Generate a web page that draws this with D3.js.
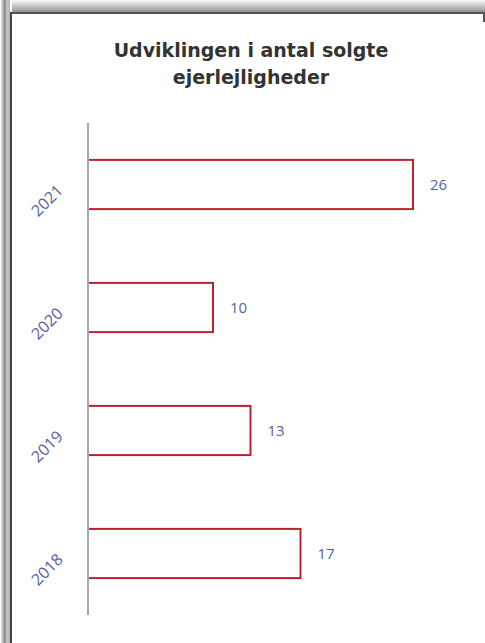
<!doctype html>
<html lang="da">
    <head>
        <meta charset="utf-8">
        <title>Udviklingen i antal solgte ejerlejligheder</title>
        <style>
            html, body { margin: 0; padding: 0; background: #fff; }
            svg { display: block; }
        </style>
    </head>
    <body>
        <article id="chart"></article>

        <script src="https://d3js.org/d3.v7.min.js"></script>
        <script>
            // data
            var years = ["2021", "2020", "2019", "2018"];
            var sold = [26, 10, 13, 17];
            var titleLines = ["Udviklingen i antal solgte", "ejerlejligheder"];

            var width = 485, height = 643;

            var svg = d3.select("#chart").append("svg")
                .attr("width", width)
                .attr("height", height);

            var defs = svg.append("defs");
            var topGrad = defs.append("linearGradient")
                .attr("id", "topGrad").attr("x1", 0).attr("y1", 0).attr("x2", 0).attr("y2", 1);
            topGrad.append("stop").attr("offset", "0%").attr("stop-color", "#fafafa");
            topGrad.append("stop").attr("offset", "100%").attr("stop-color", "#8a8a8a");

            var leftGrad = defs.append("linearGradient")
                .attr("id", "leftGrad").attr("x1", 0).attr("y1", 0).attr("x2", 1).attr("y2", 0);
            leftGrad.append("stop").attr("offset", "0%").attr("stop-color", "#e8e8e8");
            leftGrad.append("stop").attr("offset", "40%").attr("stop-color", "#8c8c8c");
            leftGrad.append("stop").attr("offset", "70%").attr("stop-color", "#c8c8c8");
            leftGrad.append("stop").attr("offset", "100%").attr("stop-color", "#b0b0b0");

            // frame: shaded strip on the left, gradient band on top
            svg.append("rect").attr("x", 12).attr("y", 0).attr("width", width - 12).attr("height", 13)
                .attr("fill", "url(#topGrad)");
            svg.append("rect").attr("x", 12).attr("y", 12).attr("width", width - 12).attr("height", 2)
                .attr("fill", "#555");
            svg.append("rect").attr("x", 1).attr("y", 0).attr("width", 9).attr("height", height)
                .attr("fill", "url(#leftGrad)");
            svg.append("rect").attr("x", 10).attr("y", 12).attr("width", 2).attr("height", height - 12)
                .attr("fill", "#444");
            svg.append("rect").attr("x", width - 2).attr("y", 12).attr("width", 2).attr("height", 10)
                .attr("fill", "#555");

            // title
            svg.append("text")
                .attr("x", 251)
                .attr("y", 57)
                .attr("text-anchor", "middle")
                .style("font-family", "'DejaVu Sans', Verdana, sans-serif")
                .style("font-weight", "bold")
                .style("font-size", "19px")
                .style("fill", "#333")
                .selectAll("tspan")
                .data(titleLines)
                .enter()
                .append("tspan")
                .attr("x", 251)
                .attr("dy", function(d, i) { return i === 0 ? 0 : 27; })
                .text(function(d) { return d; });

            var x = d3.scaleLinear().domain([0, 26]).range([88, 413]);
            var y = d3.scaleBand().domain(years).range([123, 615])
                .paddingInner(0.6).paddingOuter(0.3);

            // bars
            svg.selectAll("rect.bar")
                .data(years)
                .enter()
                .append("rect")
                .attr("class", "bar")
                .attr("x", x(0))
                .attr("y", function(d) { return y(d); })
                .attr("width", function(d, i) { return x(sold[i]) - x(0); })
                .attr("height", y.bandwidth())
                .attr("fill", "#fff")
                .attr("stroke", "#b8242c")
                .attr("stroke-width", 2);

            // value labels
            svg.selectAll("text.value")
                .data(years)
                .enter()
                .append("text")
                .attr("class", "value")
                .attr("x", function(d, i) { return x(sold[i]) + 17; })
                .attr("y", function(d) { return y(d) + y.bandwidth() / 2 + 5; })
                .style("font-family", "'Open Sans', sans-serif")
                .style("font-size", "15px")
                .style("fill", "#5b5f9c")
                .text(function(d, i) { return sold[i]; });

            // category axis line
            svg.append("line")
                .attr("x1", 88).attr("x2", 88)
                .attr("y1", 123).attr("y2", 615)
                .attr("stroke", "#a8a8a8")
                .attr("stroke-width", 2);

            // rotated year labels
            svg.selectAll("text.year")
                .data(years)
                .enter()
                .append("text")
                .attr("class", "year")
                .attr("text-anchor", "middle")
                .attr("transform", function(d) {
                    return "translate(51," + (y(d) + y.bandwidth() / 2 + 20) + ") rotate(-45)";
                })
                .style("font-family", "'Open Sans', sans-serif")
                .style("font-size", "16px")
                .style("fill", "#5b5f9c")
                .text(function(d) { return d; });
        </script>
    </body>
</html>
